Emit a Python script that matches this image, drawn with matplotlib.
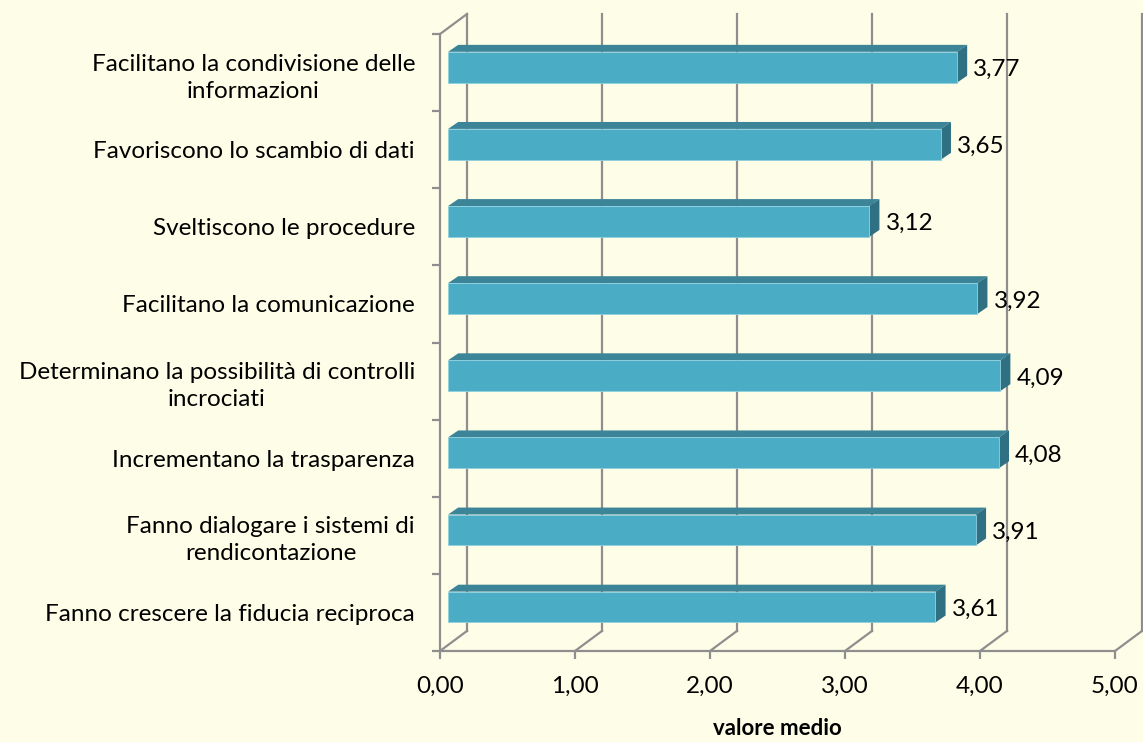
import numpy as np
import matplotlib.pyplot as plt
from matplotlib.patches import Polygon

plt.rcParams['font.family'] = ['Lato', 'DejaVu Sans']

categories = ['Facilitano la condivisione delle\ninformazioni',
              'Favoriscono lo scambio di dati',
              'Sveltiscono le procedure',
              'Facilitano la comunicazione',
              'Determinano la possibilità di controlli\nincrociati',
              'Incrementano la trasparenza',
              'Fanno dialogare i sistemi di\nrendicontazione',
              'Fanno crescere la fiducia reciproca']
values = [3.77, 3.65, 3.12, 3.92, 4.09, 4.08, 3.91, 3.61]
xticks = [0, 1, 2, 3, 4, 5]
xlabels = ['0,00', '1,00', '2,00', '3,00', '4,00', '5,00']

bg = '#FEFEE8'
grid_c = '#8E8E8E'
front_c = '#4BACC6'
top_c = '#3C8497'
side_c = '#2F7083'
fs = 17.5

# fake 3d: depth offset of the back wall, bar placement inside the depth
wx, wy = 0.2, 0.26
bx0, by0 = 0.06, 0.07
bdx, bdy = 0.075, 0.09
bh = 0.40

n = len(categories)
ypos = np.arange(n)[::-1]  # first category at top

fig = plt.figure(figsize=(11.43, 7.42), dpi=100, facecolor=bg)
ax = fig.add_axes([440/1143, 91/742, 702/1143, 637/742])
ax.set_facecolor(bg)
ax.set_xlim(0, 5 + wx)
ax.set_ylim(-0.5, n - 0.5 + wy)

# walls / grid
for k in xticks:
    ax.plot([k + wx, k + wx], [-0.5 + wy, n - 0.5 + wy], color=grid_c, lw=1.6, zorder=1, clip_on=False)
    ax.plot([k, k + wx], [-0.5, -0.5 + wy], color=grid_c, lw=1.6, zorder=1, clip_on=False)
ax.plot([0, wx], [n - 0.5, n - 0.5 + wy], color=grid_c, lw=1.6, zorder=1, clip_on=False)

# bars
for y, v in zip(ypos, values):
    x0 = bx0
    x1 = bx0 + v
    bot = y + by0 - bh / 2
    top = y + by0 + bh / 2
    ax.add_patch(Polygon([(x0, top), (x0 + bdx, top + bdy), (x1 + bdx, top + bdy), (x1, top)],
                         closed=True, facecolor=top_c, edgecolor='none', zorder=3))
    ax.add_patch(Polygon([(x1, bot), (x1 + bdx, bot + bdy), (x1 + bdx, top + bdy), (x1, top)],
                         closed=True, facecolor=side_c, edgecolor='none', zorder=3))
    ax.barh(y + by0, v, height=bh, left=x0, color=front_c, edgecolor='#8FD0E0', lw=0.6, zorder=4)
    ax.text(x1 + 0.12, y + by0 - 0.03, f'{v:.2f}'.replace('.', ','), va='center', ha='left',
            fontsize=fs, color='black', zorder=5)

for s in ['top', 'right']:
    ax.spines[s].set_visible(False)
for s in ['left', 'bottom']:
    ax.spines[s].set_color(grid_c)
    ax.spines[s].set_linewidth(1.6)
ax.spines['left'].set_bounds(-0.5, n - 0.5)
ax.spines['bottom'].set_bounds(0, 5)

ax.set_xticks(xticks)
ax.set_xticklabels(xlabels, fontsize=fs)
ax.tick_params(axis='x', length=6, width=1.6, color=grid_c, pad=12)

ax.set_yticks(ypos)
ax.set_yticklabels(categories, fontsize=fs, multialignment='center', linespacing=1.35)
ax.set_yticks(np.arange(n + 1) - 0.5, minor=True)
ax.tick_params(axis='y', which='major', length=0, pad=18)
ax.tick_params(axis='y', which='minor', length=6, width=1.6, color=grid_c)

ax.text(2.5, -0.121, 'valore medio', transform=ax.get_xaxis_transform(),
        ha='center', va='center', fontsize=16, fontweight='bold')

fig.savefig('out.png', dpi=100, facecolor=bg)
